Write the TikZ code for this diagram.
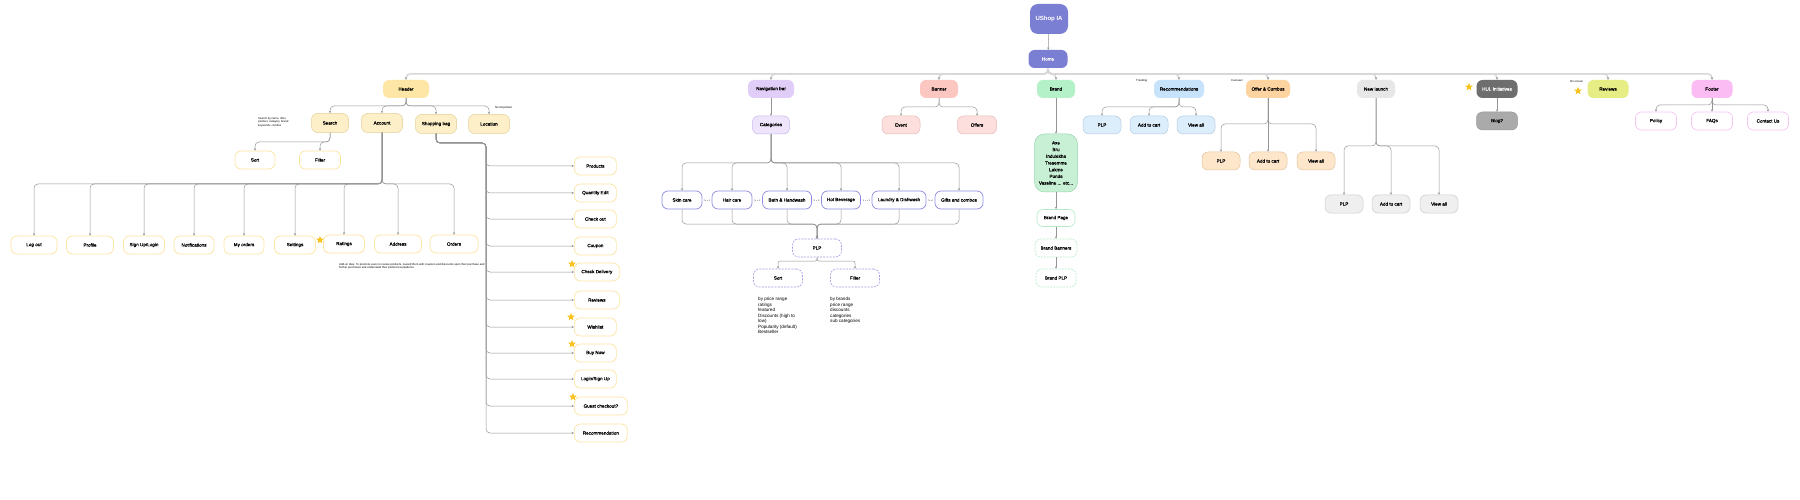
\documentclass[tikz,border=0pt]{standalone}
\usepackage{fontspec}
\setmainfont{Liberation Sans}
\newfontfamily\medfont{Liberation Sans}[FakeBold=0.45]
\usetikzlibrary{arrows.meta,shapes.geometric,calc}
\definecolor{ia}{HTML}{7B7FD3}
\definecolor{hdr}{HTML}{FEE7A6}
\definecolor{hdrc}{HTML}{FDEFC8}
\definecolor{hdrcd}{HTML}{E3CF98}
\definecolor{ylw}{HTML}{FCE5A0}
\definecolor{nav}{HTML}{E1CEF8}
\definecolor{navc}{HTML}{EEE4FB}
\definecolor{navcd}{HTML}{C8B6EA}
\definecolor{catb}{HTML}{8E8BDF}
\definecolor{plpd}{HTML}{A19EEA}
\definecolor{ban}{HTML}{FCC6C1}
\definecolor{banc}{HTML}{FDE0DE}
\definecolor{bancd}{HTML}{E4BAB6}
\definecolor{brandc}{HTML}{B4F1C9}
\definecolor{brandl}{HTML}{C7F0D4}
\definecolor{brandd}{HTML}{99D7AE}
\definecolor{brandw}{HTML}{B3EAC5}
\definecolor{rec}{HTML}{C6E3FB}
\definecolor{recc}{HTML}{DCEDFC}
\definecolor{reccd}{HTML}{B2CDE4}
\definecolor{off}{HTML}{FDD3A0}
\definecolor{offc}{HTML}{FDE6CA}
\definecolor{offcd}{HTML}{E3C39C}
\definecolor{nl}{HTML}{E7E7E7}
\definecolor{nlc}{HTML}{EFEFEF}
\definecolor{nlcd}{HTML}{CCCCCC}
\definecolor{hul}{HTML}{6E6E6E}
\definecolor{blog}{HTML}{AAAAAA}
\definecolor{blogd}{HTML}{999999}
\definecolor{rev}{HTML}{E6ED85}
\definecolor{foot}{HTML}{FBBCF3}
\definecolor{footd}{HTML}{F7C2F0}
\definecolor{gold}{HTML}{F8C31F}
\definecolor{linec}{HTML}{959595}
\definecolor{busc}{HTML}{D8D8D8}
\newcommand\fs{\medfont\fontsize{4.6}{5.5}\selectfont}
\begin{document}
\begin{tikzpicture}[x=1pt,y=-1pt,
 box/.style={rectangle, rounded corners=6pt, minimum height=18pt, inner sep=1pt, font=\fs, align=center},
 wd/.style={minimum width=#1pt},
 arr/.style={draw=linec, line width=0.5pt, rounded corners=4pt, -{Stealth[length=2.4pt,width=2.2pt]}},
 busline/.style={draw=busc, line width=1.5pt, rounded corners=4pt, -{Stealth[length=2.6pt,width=2.4pt,color=linec]}},
 dbl/.style={draw=linec!70, line width=0.4pt, dash pattern=on 1pt off 1pt, {Stealth[length=1.4pt,width=1.4pt]}-{Stealth[length=1.4pt,width=1.4pt]}, shorten <=1.5pt, shorten >=1.5pt},
 note/.style={font=\fontsize{2.8}{3.6}\selectfont, align=left, inner sep=0pt, anchor=north west},
 desc/.style={font=\fontsize{4.6}{5.5}\selectfont, align=left, inner sep=0pt, anchor=north west},
 goldstar/.style={star, star points=5, star point ratio=2.2, fill=gold, draw=none, minimum size=8pt, inner sep=0pt},
 ychild/.style={box, fill=white, draw=ylw, line width=0.7pt, minimum height=18pt},
 hchild/.style={box, fill=hdrc, draw=hdrcd, line width=0.5pt, minimum height=19pt},
 cat/.style={box, fill=white, draw=catb, line width=0.7pt},
 dplp/.style={box, fill=white, draw=plpd, line width=0.6pt, dash pattern=on 2pt off 1.2pt},
]
\useasboundingbox[fill=white] (0,0) rectangle (1800,500);
\coordinate (busY) at (0,74);

% top
\node[box, fill=ia, text=white, wd=38, minimum height=30pt, rounded corners=8pt, font=\bfseries\fontsize{6}{7}\selectfont] (ushop) at (1049,19) {UShop IA};
\node[box, fill=ia, text=white, wd=39] (home) at (1048,59) {Home};
\draw[arr] (ushop) -- (home);

% section nodes
\node[box, fill=hdr, wd=46] (header) at (406,89) {Header};
\node[box, fill=nav, wd=46] (navbar) at (771,89) {Navigation bar};
\node[box, fill=ban, wd=38] (banner) at (939,89) {Banner};
\node[box, fill=brandc, wd=38] (brand) at (1056,89) {Brand};
\node[box, fill=rec, wd=50] (recs) at (1179,89) {Recommendations};
\node[box, fill=off, wd=44] (offers) at (1268,89) {Offer \& Combos};
\node[box, fill=nl, wd=38] (newl) at (1376,89) {New launch};
\node[box, fill=hul, text=white, wd=41] (hul) at (1497,89) {HUL Initiatives};
\node[box, fill=rev, wd=41] (reviews) at (1608,89) {Reviews};
\node[box, fill=foot, wd=41] (footer) at (1712,89) {Footer};

\foreach \s in {header,navbar,banner,brand,recs,offers,newl,hul,reviews,footer}
  \draw[busline] (home.south) |- (\s.north |- busY) -- (\s.north);

% Header children
\node[hchild, wd=37] (search) at (330,123) {Search};
\node[hchild, wd=41] (account) at (382,123) {Account};
\node[hchild, wd=41] (bag) at (436,124) {Shopping bag};
\node[hchild, wd=41] (location) at (489,124) {Location};
\coordinate (hb) at (0,106);
\foreach \c in {search,account,bag,location}
  \draw[arr] (header.south) |- (\c.north |- hb) -- (\c.north);
\node[note] (searchnote) at (258,117) {Search by name, offer,\\product, category, brand\\keywords, combos};
\node[note] (locnote) at (495,106) {Not important};

% Search children
\node[ychild, wd=40] (ssort) at (255,160) {Sort};
\node[ychild, wd=41] (sfilter) at (320,160) {Filter};
\coordinate (sb) at (0,142);
\foreach \c in {ssort,sfilter}
  \draw[arr] (search.south) |- (\c.north |- sb) -- (\c.north);

% Account children
\node[ychild, wd=46] (logout) at (34,245) {Log out};
\node[ychild, wd=47] (profile) at (90,245) {Profile};
\node[ychild, wd=41] (signup) at (144,245) {Sign Up/Login};
\node[ychild, wd=40] (notif) at (194,245) {Notifications};
\node[ychild, wd=40] (myorders) at (244,245) {My orders};
\node[ychild, wd=41] (settings) at (295,245) {Settings};
\node[ychild, wd=41] (ratings) at (344,244) {Ratings};
\node[ychild, wd=47] (address) at (398,244) {Address};
\node[ychild, wd=48] (orders) at (454,244) {Orders};
\coordinate (ab) at (0,184);
\foreach \c in {logout,profile,signup,notif,myorders,settings,ratings,address,orders}
  \draw[arr] (account.south) |- (\c.north |- ab) -- (\c.north);
\node[goldstar] (star1) at (320,240) {};
\node[note] (ratenote) at (339,263) {Add-on idea: To promote users to review products, reward them with coupons and discounts upon their purchase and\\further purchases and understand their preferences/patterns};

% Shopping bag children
\coordinate (spine) at (486,143);
\node[ychild, wd=42, anchor=west] (products) at (574,166) {Products};
\node[ychild, wd=42, anchor=west] (qty) at (574,193) {Quantity Edit};
\node[ychild, wd=42, anchor=west] (checkout) at (574,219) {Check out};
\node[ychild, wd=42, anchor=west] (coupon) at (574,246) {Coupon};
\node[ychild, wd=45, anchor=west] (delivery) at (574,272) {Check Delivery};
\node[ychild, wd=45, anchor=west] (breviews) at (574,300) {Reviews};
\node[ychild, wd=42, anchor=west] (wishlist) at (574,327) {Wishlist};
\node[ychild, wd=42, anchor=west] (buynow) at (574,353) {Buy Now};
\node[ychild, wd=42, anchor=west] (blogin) at (574,379) {Login/Sign Up};
\node[ychild, wd=53, anchor=west] (guest) at (574,406) {Guest checkout?};
\node[ychild, wd=53, anchor=west] (brec) at (574,433) {Recommendation};
\foreach \c in {products,qty,checkout,coupon,delivery,breviews,wishlist,buynow,blogin,guest,brec}
  \draw[arr] (bag.south) |- (spine) |- (\c.west);
\node[goldstar] (star2) at (572,264) {};
\node[goldstar] (star3) at (571,317) {};
\node[goldstar] (star4) at (572,344) {};
\node[goldstar] (star5) at (573,397) {};

% Navigation bar
\node[box, fill=navc, draw=navcd, line width=0.5pt, wd=37] (categ) at (771,125) {Categories};
\draw[arr] (navbar) -- (categ);
\node[cat, wd=40] (skin) at (682,200) {Skin care};
\node[cat, wd=40] (hair) at (732,200) {Hair care};
\node[cat, wd=49] (bath) at (787,200) {Bath \& Handwash};
\node[cat, wd=39] (hot) at (841,200) {Hot Beverage};
\node[cat, wd=54] (laundry) at (899,200) {Laundry \& Dishwash};
\node[cat, wd=48] (gifts) at (959,200) {Gifts and combos};
\coordinate (cb) at (0,163);
\foreach \c in {skin,hair,bath,hot,laundry,gifts}
  \draw[arr] (categ.south) |- (\c.north |- cb) -- (\c.north);
\draw[dbl] (skin.east) -- (hair.west);
\draw[dbl] (hair.east) -- (bath.west);
\draw[dbl] (bath.east) -- (hot.west);
\draw[dbl] (hot.east) -- (laundry.west);
\draw[dbl] (laundry.east) -- (gifts.west);
\node[dplp, wd=49] (plp) at (817,248) {PLP};
\coordinate (pb) at (0,224);
\foreach \c in {skin,hair,bath,hot,laundry,gifts}
  \draw[arr] (\c.south) |- (plp.north |- pb) -- (plp.north);
\node[dplp, wd=49] (psort) at (778,278) {Sort};
\node[dplp, wd=49] (pfilter) at (855,278) {Filter};
\coordinate (qb) at (0,261);
\foreach \c in {psort,pfilter}
  \draw[arr, rounded corners=2pt] (plp.south) |- (\c.north |- qb) -- (\c.north);
\node[desc] (sorttxt) at (758,297) {by price range\\ratings\\featured\\Discounts (high to\\low)\\Popularity (default)\\Bestseller};
\node[desc] (filtertxt) at (830,297) {by brands\\price range\\discounts\\categories\\sub categories};

% Banner
\node[box, fill=banc, draw=bancd, line width=0.5pt, wd=38] (event) at (901,125) {Event};
\node[box, fill=banc, draw=bancd, line width=0.5pt, wd=39] (boffers) at (977,125) {Offers};
\coordinate (bb) at (0,107);
\foreach \c in {event,boffers}
  \draw[arr] (banner.south) |- (\c.north |- bb) -- (\c.north);

% Brand
\node[box, fill=brandl, draw=brandd, line width=0.5pt, wd=43, minimum height=58pt, rounded corners=10pt, font=\medfont\fontsize{4.6}{6.7}\selectfont] (brandlist) at (1056,163) {Axe\\Bru\\Indulekha\\Tresemme\\Lakme\\Ponds\\Vaseline ... etc...};
\node[box, fill=white, draw=brandw, line width=0.6pt, wd=38, minimum height=17pt] (brandpage) at (1056,218) {Brand Page};
\node[box, fill=white, draw=brandw, line width=0.6pt, dash pattern=on 2pt off 1.2pt, wd=42] (brandban) at (1056,248) {Brand Banners};
\node[box, fill=white, draw=brandw, line width=0.6pt, dash pattern=on 2pt off 1.2pt, wd=40] (brandplp) at (1056,278) {Brand PLP};
\draw[arr] (brand) -- (brandlist);
\draw[arr] (brandlist) -- (brandpage);
\draw[arr] (brandpage) -- (brandban);
\draw[arr] (brandban) -- (brandplp);

% Recommendations
\node[box, fill=recc, draw=reccd, line width=0.5pt, wd=38] (rplp) at (1102,125) {PLP};
\node[box, fill=recc, draw=reccd, line width=0.5pt, wd=38] (rcart) at (1149,125) {Add to cart};
\node[box, fill=recc, draw=reccd, line width=0.5pt, wd=38] (rview) at (1196,125) {View all};
\coordinate (rb) at (0,107);
\foreach \c in {rplp,rcart,rview}
  \draw[arr] (recs.south) |- (\c.north |- rb) -- (\c.north);
\node[note] (recnote) at (1136,79) {Trending};

% Offer & Combos
\node[box, fill=offc, draw=offcd, line width=0.5pt, wd=38] (oplp) at (1221,161) {PLP};
\node[box, fill=offc, draw=offcd, line width=0.5pt, wd=38] (ocart) at (1268,161) {Add to cart};
\node[box, fill=offc, draw=offcd, line width=0.5pt, wd=38] (oview) at (1316,161) {View all};
\coordinate (ob) at (0,124);
\foreach \c in {oplp,ocart,oview}
  \draw[arr] (offers.south) |- (\c.north |- ob) -- (\c.north);
\node[note] (offnote) at (1231,79) {Carousel};

% New launch
\node[box, fill=nlc, draw=nlcd, line width=0.5pt, wd=38] (nplp) at (1344,204) {PLP};
\node[box, fill=nlc, draw=nlcd, line width=0.5pt, wd=38] (ncart) at (1391,204) {Add to cart};
\node[box, fill=nlc, draw=nlcd, line width=0.5pt, wd=38] (nview) at (1439,204) {View all};
\coordinate (nb) at (0,146);
\foreach \c in {nplp,ncart,nview}
  \draw[arr] (newl.south) |- (\c.north |- nb) -- (\c.north);

% HUL
\node[box, fill=blog, draw=blogd, line width=0.5pt, wd=41] (blogn) at (1497,121) {Blog?};
\draw[arr] (hul) -- (blogn);
\node[goldstar] (star6) at (1469,87) {};

% Reviews
\node[goldstar] (star7) at (1578,91) {};
\node[note] (revnote) at (1570,80) {On screen};

% Footer
\node[box, fill=white, draw=footd, line width=0.7pt, wd=41] (policy) at (1656,121) {Policy};
\node[box, fill=white, draw=footd, line width=0.7pt, wd=41] (faqs) at (1712,121) {FAQs};
\node[box, fill=white, draw=footd, line width=0.7pt, wd=41] (contact) at (1768,121) {Contact Us};
\coordinate (fb) at (0,105);
\foreach \c in {policy,faqs,contact}
  \draw[arr] (footer.south) |- (\c.north |- fb) -- (\c.north);
\end{tikzpicture}
\end{document}
